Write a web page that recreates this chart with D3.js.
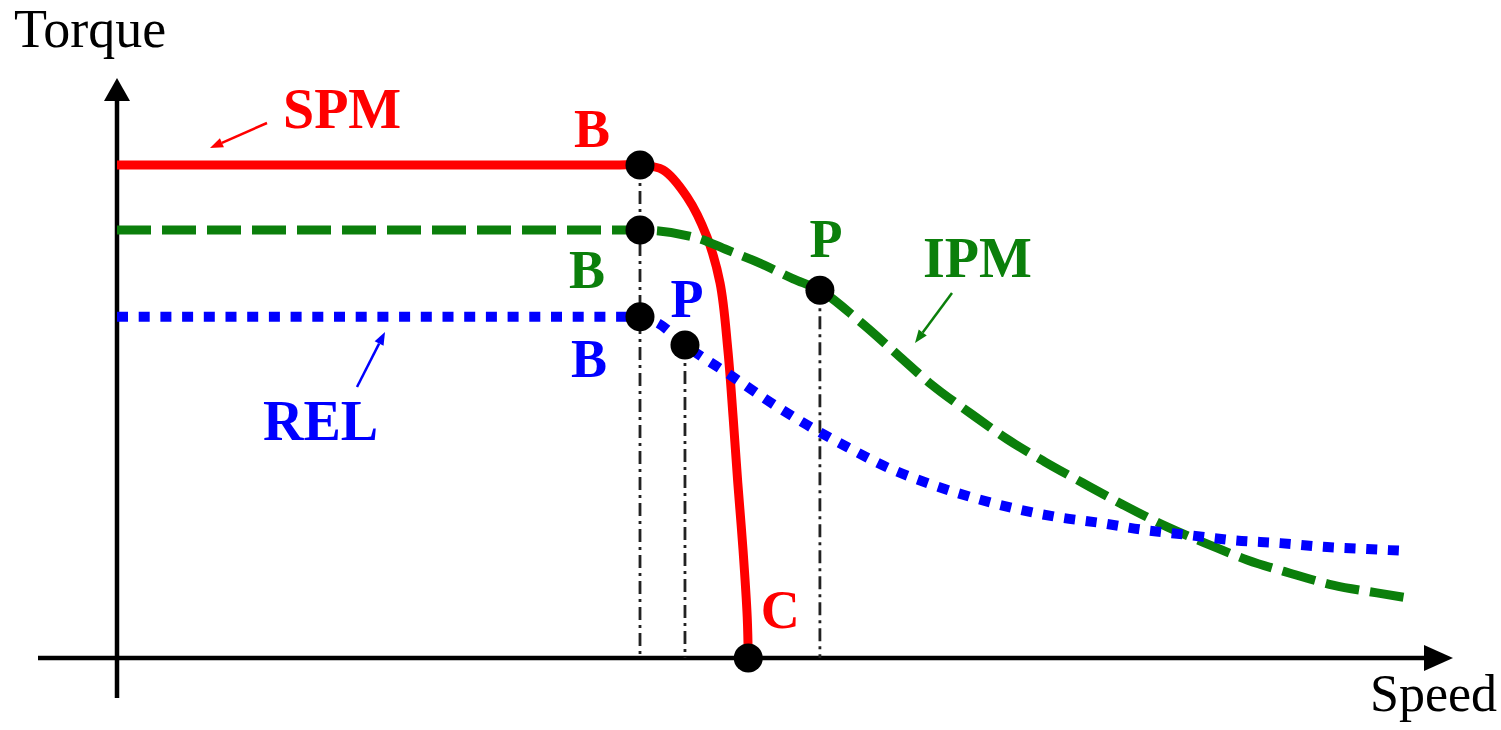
<!DOCTYPE html>
<html>
<head>
<meta charset="utf-8">
<script src="https://cdn.jsdelivr.net/npm/d3@7/dist/d3.min.js"></script>
<style>
  html, body { margin: 0; padding: 0; background: #ffffff; }
  svg { display: block; }
  text { font-family: "Liberation Serif", "Times New Roman", serif; }
</style>
</head>
<body>
<svg id="chart" width="1501" height="730"></svg>
<script>
// Speed is normalised to the base speed (B), torque to the SPM rated torque.
const spmSpeed  = [0, 0.950, 1.000, 1.044, 1.090, 1.128, 1.153, 1.168, 1.178, 1.187, 1.197, 1.205, 1.207];
const spmTorque = [1, 1.000, 1.000, 0.990, 0.935, 0.854, 0.761, 0.625, 0.489, 0.355, 0.219, 0.083, 0.000];

const ipmSpeed  = [0, 1.000, 1.109, 1.166, 1.229, 1.293, 1.344, 1.421, 1.497, 1.558, 1.631, 1.702,
                   1.774, 1.847, 1.918, 2.008, 2.090, 2.161, 2.243, 2.325, 2.409, 2.467];
const ipmTorque = [0.868, 0.868, 0.852, 0.828, 0.801, 0.769, 0.746, 0.682, 0.611, 0.554, 0.497, 0.444,
                   0.398, 0.355, 0.314, 0.266, 0.229, 0.199, 0.172, 0.148, 0.132, 0.122];

const relSpeed  = [0, 1.000, 1.033, 1.086, 1.178, 1.243, 1.319, 1.396, 1.472, 1.549, 1.631, 1.713,
                   1.797, 1.880, 1.962, 2.052, 2.134, 2.224, 2.314, 2.390, 2.467];
const relTorque = [0.692, 0.692, 0.680, 0.635, 0.570, 0.523, 0.473, 0.428, 0.387, 0.355, 0.327, 0.304,
                   0.286, 0.274, 0.260, 0.249, 0.239, 0.233, 0.225, 0.221, 0.217];

// Characteristic operating points: base speed (B), max-power point (P), cut-off (C)
const pointNames  = ["B", "B", "B", "P", "P", "C"];
const pointSeries = ["SPM", "IPM", "REL", "REL", "IPM", "SPM"];
const pointSpeed  = [1.000, 1.000, 1.000, 1.086, 1.344, 1.207];
const pointTorque = [1.000, 0.868, 0.692, 0.635, 0.746, 0.000];

const seriesNames = ["SPM", "IPM", "REL"];
const axisTitles  = ["Torque", "Speed"];

// ---------------------------------------------------------------
const colors = { SPM: "#ff0000", IPM: "#0b7f0b", REL: "#0000ff" };

const svg = d3.select("#chart");
const x = d3.scaleLinear().domain([0, 2.5]).range([117, 1424.5]);
const y = d3.scaleLinear().domain([0, 1]).range([658, 165]);

const zip = (xs, ys) => xs.map((v, i) => [v, ys[i]]);
const line = d3.line().x(d => x(d[0])).y(d => y(d[1])).curve(d3.curveMonotoneX);
const lineRound = d3.line().x(d => x(d[0])).y(d => y(d[1])).curve(d3.curveCatmullRom.alpha(0.5));

// axes with filled arrow heads
const x0 = x(0), y0 = y(0);
const axisG = svg.append("g");
axisG.append("line").attr("x1", 38).attr("y1", y0).attr("x2", 1430).attr("y2", y0)
  .attr("stroke", "#000").attr("stroke-width", 4.5);
axisG.append("path").attr("d", `M1453,${y0} L1424,${y0 - 13} L1424,${y0 + 13} Z`).attr("fill", "#000");
axisG.append("line").attr("x1", x0).attr("y1", 698).attr("x2", x0).attr("y2", 96)
  .attr("stroke", "#000").attr("stroke-width", 4.5);
axisG.append("path").attr("d", `M${x0},78 L${x0 - 13},101 L${x0 + 13},101 Z`).attr("fill", "#000");

axisG.append("text").attr("x", 14).attr("y", 47).attr("font-size", 54).attr("fill", "#000").text(axisTitles[0]);
axisG.append("text").attr("x", 1370).attr("y", 711).attr("font-size", 52).attr("fill", "#000").text(axisTitles[1]);

// dash-dot drop lines from B and P points down to the speed axis
const dropIdx = [0, 3, 4];
svg.append("g").selectAll("line").data(dropIdx).join("line")
  .attr("x1", i => x(pointSpeed[i])).attr("x2", i => x(pointSpeed[i]))
  .attr("y1", i => y(pointTorque[i])).attr("y2", y(0))
  .attr("stroke", "#222").attr("stroke-width", 2.8)
  .attr("stroke-dasharray", "13 5 3 5");

// torque-speed curves
svg.append("path").attr("d", lineRound(zip(spmSpeed, spmTorque)))
  .attr("fill", "none").attr("stroke", colors.SPM).attr("stroke-width", 9);
svg.append("path").attr("d", line(zip(ipmSpeed, ipmTorque)))
  .attr("fill", "none").attr("stroke", colors.IPM).attr("stroke-width", 9)
  .attr("stroke-dasharray", "34 11");
svg.append("path").attr("d", line(zip(relSpeed, relTorque)))
  .attr("fill", "none").attr("stroke", colors.REL).attr("stroke-width", 10)
  .attr("stroke-dasharray", "11 10.7");

// operating-point markers
svg.append("g").selectAll("circle").data(pointSpeed).join("circle")
  .attr("cx", (d, i) => x(d)).attr("cy", (d, i) => y(pointTorque[i]))
  .attr("r", 14.5).attr("fill", "#000");

// point letters, offset from their markers
const labelOffsets = [[-48, -18], [-53, 58], [-51, 60], [2, -28], [6, -33], [32, -30]];
svg.append("g").selectAll("text").data(pointNames).join("text")
  .attr("x", (d, i) => x(pointSpeed[i]) + labelOffsets[i][0])
  .attr("y", (d, i) => y(pointTorque[i]) + labelOffsets[i][1])
  .attr("text-anchor", "middle").attr("font-size", 54).attr("font-weight", "bold")
  .attr("fill", (d, i) => colors[pointSeries[i]])
  .text(d => d);

// series names with pointer arrows
const seriesLabel = [
  { pos: [283, 128], from: [267, 123], to: [210, 148] },
  { pos: [923, 277], from: [952, 293], to: [915, 343] },
  { pos: [263, 440], from: [357, 387], to: [385, 332] }
];
seriesNames.forEach((name, i) => {
  const s = seriesLabel[i];
  const c = colors[name];
  svg.append("text").attr("x", s.pos[0]).attr("y", s.pos[1])
    .attr("font-size", 56).attr("font-weight", "bold").attr("fill", c).text(name);
  const [fx, fy] = s.from, [tx, ty] = s.to;
  const ang = Math.atan2(ty - fy, tx - fx);
  const L = 13, W = 5;
  const bx = tx - L * Math.cos(ang), by = ty - L * Math.sin(ang);
  svg.append("line").attr("x1", fx).attr("y1", fy).attr("x2", bx).attr("y2", by)
    .attr("stroke", c).attr("stroke-width", 2.5);
  svg.append("path")
    .attr("d", `M${tx},${ty} L${bx + W * Math.sin(ang)},${by - W * Math.cos(ang)} L${bx - W * Math.sin(ang)},${by + W * Math.cos(ang)} Z`)
    .attr("fill", c);
});
</script>
</body>
</html>
